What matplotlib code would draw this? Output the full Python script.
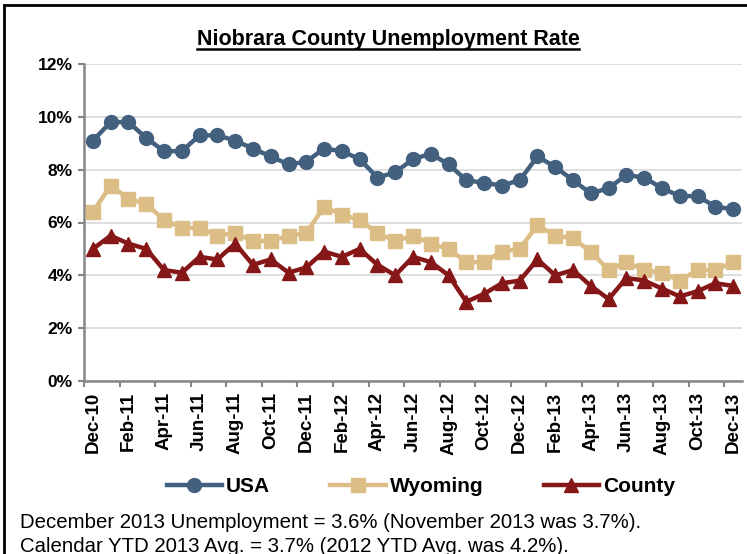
import numpy as np
import matplotlib
matplotlib.use("Agg")
import matplotlib.pyplot as plt
from matplotlib.lines import Line2D

# ---- data (percent) ----
months = ["Dec-10", "Jan-11", "Feb-11", "Mar-11", "Apr-11", "May-11", "Jun-11", "Jul-11",
          "Aug-11", "Sep-11", "Oct-11", "Nov-11", "Dec-11", "Jan-12", "Feb-12", "Mar-12",
          "Apr-12", "May-12", "Jun-12", "Jul-12", "Aug-12", "Sep-12", "Oct-12", "Nov-12",
          "Dec-12", "Jan-13", "Feb-13", "Mar-13", "Apr-13", "May-13", "Jun-13", "Jul-13",
          "Aug-13", "Sep-13", "Oct-13", "Nov-13", "Dec-13"]
usa = [9.1, 9.8, 9.8, 9.2, 8.7, 8.7, 9.3, 9.3, 9.1, 8.8, 8.5, 8.2, 8.3, 8.8, 8.7, 8.4,
       7.7, 7.9, 8.4, 8.6, 8.2, 7.6, 7.5, 7.4, 7.6, 8.5, 8.1, 7.6, 7.1, 7.3, 7.8, 7.7,
       7.3, 7.0, 7.0, 6.6, 6.5]
wyoming = [6.4, 7.4, 6.9, 6.7, 6.1, 5.8, 5.8, 5.5, 5.6, 5.3, 5.3, 5.5, 5.6, 6.6, 6.3, 6.1,
           5.6, 5.3, 5.5, 5.2, 5.0, 4.5, 4.5, 4.9, 5.0, 5.9, 5.5, 5.4, 4.9, 4.2, 4.5, 4.2,
           4.1, 3.8, 4.2, 4.2, 4.5]
county = [5.0, 5.5, 5.2, 5.0, 4.2, 4.1, 4.7, 4.6, 5.2, 4.4, 4.6, 4.1, 4.3, 4.9, 4.7, 5.0,
          4.4, 4.0, 4.7, 4.5, 4.0, 3.0, 3.3, 3.7, 3.8, 4.6, 4.0, 4.2, 3.6, 3.1, 3.9, 3.8,
          3.5, 3.2, 3.4, 3.7, 3.6]
yticks = [0, 2, 4, 6, 8, 10, 12]
notes = ["December 2013 Unemployment = 3.6% (November 2013 was 3.7%).",
         "Calendar YTD 2013 Avg. = 3.7% (2012 YTD Avg. was 4.2%)."]

BLUE = "#44607f"; TAN = "#dcbd86"; RED = "#861718"; AXIS = "#868686"; GRID = "#d9d9d9"
BOLD = dict(family="Liberation Sans", weight="bold")
W, H = 747, 554

fig = plt.figure(figsize=(W / 100, H / 100), dpi=100)
ax = fig.add_axes([84 / W, 1 - 381 / H, 658 / W, 317 / H])

x = np.arange(len(months))
ax.plot(x, usa, color=BLUE, lw=3.2, marker="o", ms=10, label="USA", zorder=3)
ax.plot(x, wyoming, color=TAN, lw=3.2, marker="s", ms=10, label="Wyoming", zorder=3)
ax.plot(x, county, color=RED, lw=3.2, marker="^", ms=10, label="County", zorder=3)

ax.set_xlim(-0.5, len(months) - 0.5)
ax.set_ylim(0, 12)
ax.set_yticks(yticks)
ax.set_yticklabels([f"{t}%" for t in yticks], fontsize=12.5, **BOLD)
ax.set_xticks(x[::2])
ax.set_xticklabels(months[::2], rotation=90, fontsize=13.5, **BOLD)
ax.set_xticks(np.arange(-0.5, len(months), 2), minor=True)
ax.tick_params(axis="x", which="major", length=0, pad=8)
ax.tick_params(axis="x", which="minor", length=4, color=AXIS, width=1.5)
ax.tick_params(axis="y", length=4, color=AXIS, width=1.5, pad=4)
ax.grid(axis="y", color=GRID, lw=1.2)
ax.set_axisbelow(True)
for s in ["top", "right"]:
    ax.spines[s].set_visible(False)
for s in ["left", "bottom"]:
    ax.spines[s].set_color(AXIS)
    ax.spines[s].set_linewidth(1.8)

ax.legend(loc="center", bbox_to_anchor=(0.512, -0.334), ncol=3, frameon=False,
          handlelength=2.65, columnspacing=2.9, handletextpad=0.2,
          prop=dict(family="Liberation Sans", weight="bold", size=15))

# title with underline
title = fig.text(388 / W, 1 - 40 / H, "Niobrara County Unemployment Rate",
                 ha="center", va="center", fontsize=15.5, **BOLD)
fig.canvas.draw()
bb = title.get_window_extent().transformed(fig.transFigure.inverted())
fig.add_artist(Line2D([bb.x0, bb.x1], [bb.y0 + 0.002, bb.y0 + 0.002],
                      transform=fig.transFigure, color="black", lw=1.8))

for i, n in enumerate(notes):
    fig.text(20 / W, 1 - (523 + 23 * i) / H, n, ha="left", va="center",
             fontsize=14.7, family="Liberation Sans")

# frame lines (top and left)
fig.add_artist(Line2D([4 / W, 1], [1 - 5 / H] * 2, transform=fig.transFigure,
                      color="black", lw=2))
fig.add_artist(Line2D([4 / W] * 2, [0, 1 - 5 / H], transform=fig.transFigure,
                      color="black", lw=2))

fig.savefig("out.png", dpi=100)
